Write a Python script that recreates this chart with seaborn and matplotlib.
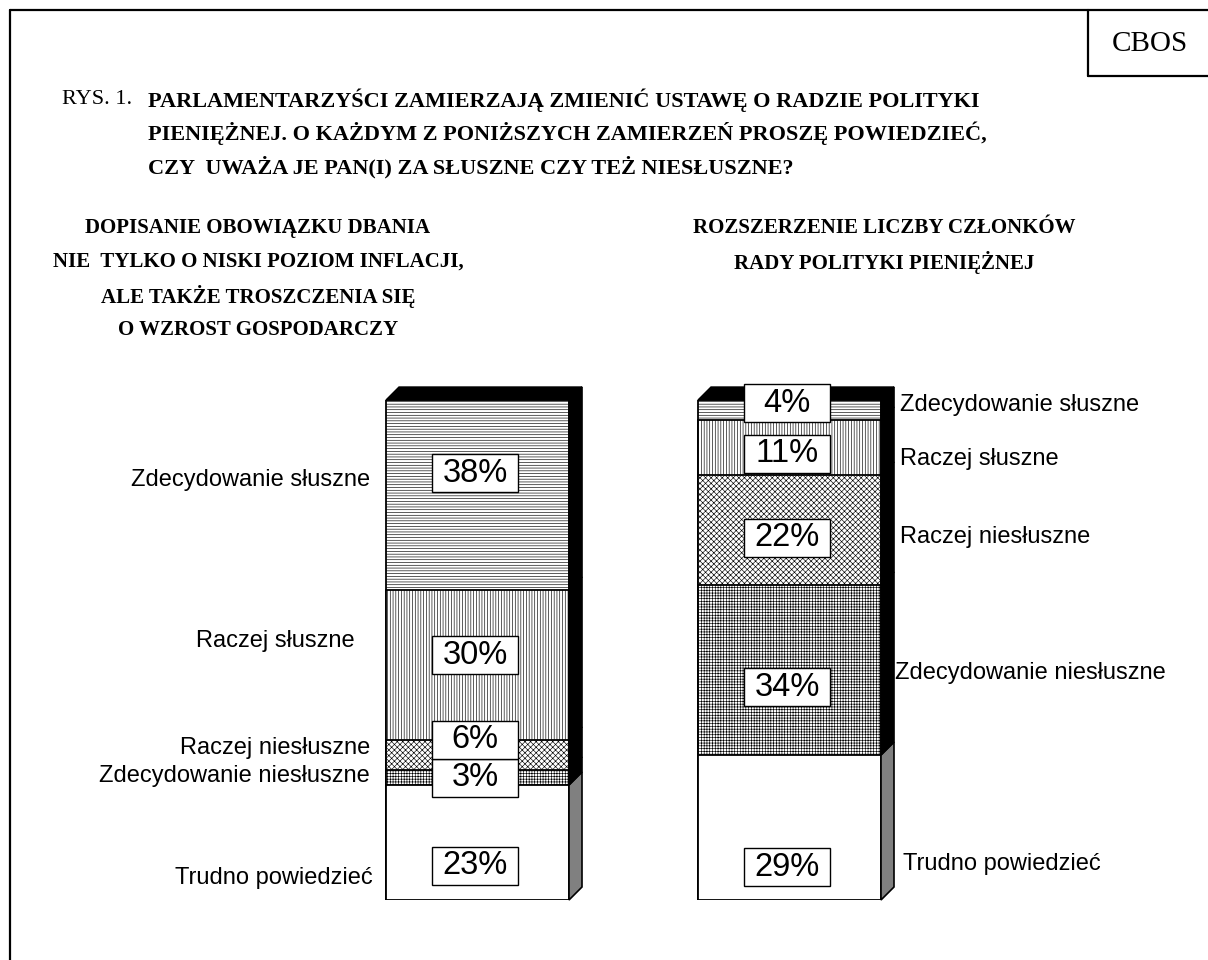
import numpy as np
import pandas as pd
import matplotlib
matplotlib.use("Agg")
import matplotlib.pyplot as plt
from matplotlib.patches import Polygon, Rectangle
import seaborn as sns

# Survey data (CBOS), stacked bottom -> top
questions = ["Dopisanie obowiązku", "Rozszerzenie RPP"]
categories = ["Trudno powiedzieć", "Zdecydowanie niesłuszne", "Raczej niesłuszne",
              "Raczej słuszne", "Zdecydowanie słuszne"]
left_values = [23, 3, 6, 30, 38]
right_values = [29, 34, 22, 11, 4]

# label placement (value units)
left_box_y = [6.8, 24.4, 32.0, 49.0, 85.4]
right_box_y = [6.6, 42.6, 72.4, 89.2, 99.4]
left_text_y = [4.4, 24.8, 30.4, 51.8, 84.0]
right_text_y = [7.2, 45.4, 72.6, 88.2, 99.0]
left_text_x = [-0.337, -0.345, -0.345, -0.393, -0.345]
right_text_x = [1.364, 1.338, 1.354, 1.354, 1.354]

hatches = ["", "++++++", "xxxxxx", "||||||", "------"]

sns.set_style("white")
plt.rcParams["font.family"] = ["Liberation Sans", "DejaVu Sans"]
plt.rcParams["text.color"] = "black"
plt.rcParams["hatch.linewidth"] = 0.45

df = pd.DataFrame({
    "question": np.repeat(questions, len(categories)),
    "category": categories * 2,
    "value": left_values + right_values,
})
df["cum"] = df.groupby("question")["value"].cumsum()

fig = plt.figure(figsize=(12.08, 9.6), dpi=100)

# background axes in pixel units for frame and titles
bg = fig.add_axes([0, 0, 1, 1])
bg.set_xlim(0, 1208)
bg.set_ylim(960, 0)
bg.axis("off")

bg.plot([10, 10], [10, 960], color="black", lw=1.6)
bg.plot([10, 1208], [10, 10], color="black", lw=1.6)
bg.plot([1088, 1088], [10, 76], color="black", lw=1.6)
bg.plot([1088, 1208], [76, 76], color="black", lw=1.6)
bg.text(1150, 44, "CBOS", family="Liberation Serif", fontsize=21, ha="center", va="center")

serif = "Liberation Serif"
bg.text(62, 100, "RYS. 1.", family=serif, fontsize=16, ha="left", va="center")
title_lines = ["PARLAMENTARZYŚCI ZAMIERZAJĄ ZMIENIĆ USTAWĘ O RADZIE POLITYKI",
               "PIENIĘŻNEJ. O KAŻDYM Z PONIŻSZYCH ZAMIERZEŃ PROSZĘ POWIEDZIEĆ,",
               "CZY  UWAŻA JE PAN(I) ZA SŁUSZNE CZY TEŻ NIESŁUSZNE?"]
for i, line in enumerate(title_lines):
    bg.text(148, 100 + i * 33.5, line, family=serif, fontsize=16, fontweight="bold",
            ha="left", va="center")

left_sub = ["DOPISANIE OBOWIĄZKU DBANIA", "NIE  TYLKO O NISKI POZIOM INFLACJI,",
            "ALE TAKŻE TROSZCZENIA SIĘ", "O WZROST GOSPODARCZY"]
right_sub = ["ROZSZERZENIE LICZBY CZŁONKÓW", "RADY POLITYKI PIENIĘŻNEJ"]
for i, line in enumerate(left_sub):
    bg.text(258, 228 + i * 34, line, family=serif, fontsize=15, fontweight="bold",
            ha="center", va="center")
for i, line in enumerate(right_sub):
    bg.text(884, 228 + i * 34, line, family=serif, fontsize=15, fontweight="bold",
            ha="center", va="center")

# bar axes: category centres 312 px apart, 5 px per percent
ax = fig.add_axes([165.5 / 1208, 60 / 960, 936 / 1208, 500 / 960])
ax.patch.set_alpha(0)

bar_width = 183 / 312
for k in range(len(categories) - 1, -1, -1):
    sub = df[df["category"] == categories[k]]
    n_before = len(ax.patches)
    sns.barplot(data=sub, x="question", y="cum", order=questions, width=bar_width,
                color="white", edgecolor="black", linewidth=1.3, ax=ax,
                errorbar=None, saturation=1)
    for p in ax.patches[n_before:]:
        p.set_hatch(hatches[k])
        p.set_facecolor("white")

ax.set_xlim(-1, 2)
ax.set_ylim(0, 100)
ax.axis("off")

# 3D depth: top and side faces
dx = 13 / 312
dy = 13 / 5
for qi, q in enumerate(questions):
    vals = df[df["question"] == q]["value"].to_numpy()
    cum = np.concatenate([[0], np.cumsum(vals)])
    x0 = qi - bar_width / 2
    x1 = qi + bar_width / 2
    top = cum[-1]
    ax.add_patch(Polygon([(x0, top), (x1, top), (x1 + dx, top + dy), (x0 + dx, top + dy)],
                         closed=True, facecolor="black", edgecolor="black", lw=1, clip_on=False))
    for k in range(len(vals)):
        lo, hi = cum[k], cum[k + 1]
        fc = "#808080" if k == 0 else "black"
        ax.add_patch(Polygon([(x1, lo), (x1 + dx, lo + dy), (x1 + dx, hi + dy), (x1, hi)],
                             closed=True, facecolor=fc, edgecolor="black", lw=1.2,
                             clip_on=False, zorder=3))

# value boxes and category labels
box_w = 86 / 312
box_h = 7.6
for qi, (vals, ys) in enumerate([(left_values, left_box_y), (right_values, right_box_y)]):
    cx = qi - 0.008
    for v, y in zip(vals, ys):
        ax.add_patch(Rectangle((cx - box_w / 2, y - box_h / 2), box_w, box_h,
                               facecolor="white", edgecolor="black", lw=1.0,
                               clip_on=False, zorder=5))
        ax.text(cx, y, f"{v}%", fontsize=23.5, ha="center", va="center", zorder=6)

for cat, x, y in zip(categories, left_text_x, left_text_y):
    ax.text(x, y, cat, fontsize=17, ha="right", va="center")
for cat, x, y in zip(categories, right_text_x, right_text_y):
    ax.text(x, y, cat, fontsize=17, ha="left", va="center")

fig.savefig("out.png", dpi=100, facecolor="white")
